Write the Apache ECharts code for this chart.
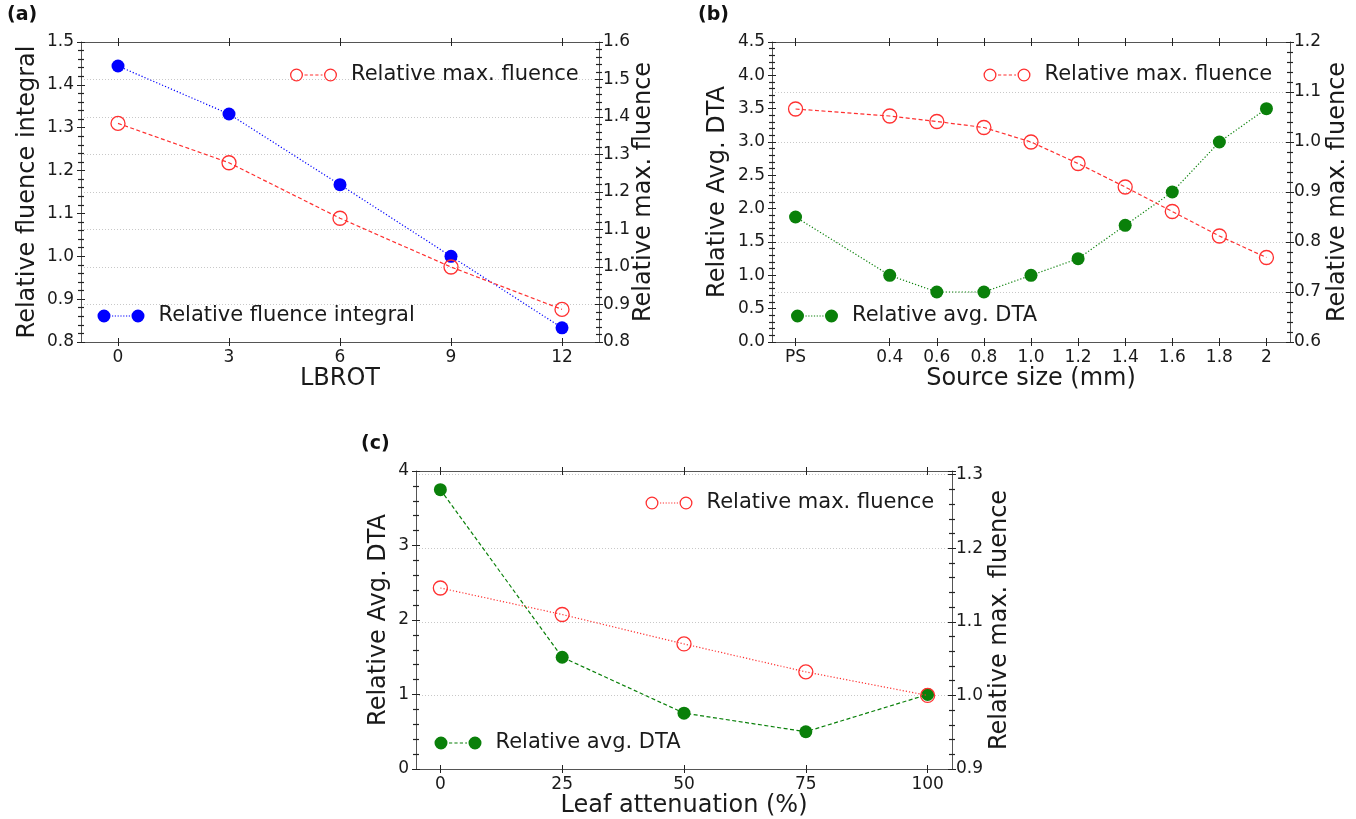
<!DOCTYPE html>
<html><head><meta charset="utf-8">
<script src="https://cdn.jsdelivr.net/npm/echarts@6/dist/echarts.min.js"></script>
<style>html,body{margin:0;padding:0;background:#fff}#c{width:1356px;height:819px}</style>
</head><body><div id="c"></div><script>
// ---------- data ----------
const lbrot = [0, 3, 6, 9, 12];
const lbrotTickLabels = ['0', '3', '6', '9', '12'];
const aFluenceIntegral = [1.444, 1.332, 1.167, 1.0, 0.833];
const aMaxFluence = [1.383, 1.278, 1.130, 1.0, 0.887];

const sourceSize = [0, 0.4, 0.6, 0.8, 1.0, 1.2, 1.4, 1.6, 1.8, 2.0];
const sourceSizeTickLabels = ['PS', '0.4', '0.6', '0.8', '1.0', '1.2', '1.4', '1.6', '1.8', '2'];
const bAvgDTA = [1.875, 1.0, 0.75, 0.75, 1.0, 1.25, 1.75, 2.25, 3.0, 3.5];
const bMaxFluence = [1.066, 1.052, 1.041, 1.029, 1.0, 0.957, 0.910, 0.861, 0.812, 0.769];

const leafAttenuation = [0, 25, 50, 75, 100];
const leafTickLabels = ['0', '25', '50', '75', '100'];
const cAvgDTA = [3.75, 1.5, 0.75, 0.5, 1.0];
const cMaxFluence = [1.146, 1.110, 1.070, 1.032, 1.0];

// ---------- styling ----------
const FONT = 'DejaVu Sans';
const RED = '#ff3030', BLUE = '#0000ff', GREEN = '#0a800a';
const AXC = '#555', TXT = '#1a1a1a';
const TICK_FS = 17, NAME_FS = 24, LEG_FS = 21;

const pairs = (xs, ys) => xs.map((x, i) => [x, ys[i]]);
const labelOf = (ticks, labels) => v => {
  let best = 0;
  ticks.forEach((t, i) => { if (Math.abs(t - v) < Math.abs(ticks[best] - v)) best = i; });
  return labels[best];
};

const grids = [
  {left: 81, top: 42, width: 518, height: 300},
  {left: 772, top: 42, width: 518, height: 300},
  {left: 416, top: 471, width: 536, height: 299}
];

function xAxesFor(g, min, max, ticks, labels, name, nameGap) {
  const base = {type: 'value', gridIndex: g, min, max, splitLine: {show: false},
    axisLine: {show: true, onZero: false, lineStyle: {color: AXC, width: 1}}};
  const hidden = {show: false, onZero: false};
  const tk = {lineStyle: {color: '#222', width: 1}, length: 4, customValues: ticks};
  return [
    Object.assign({}, base, {position: 'bottom', name, nameLocation: 'middle', nameGap, nameMoveOverlap: false,
      nameTextStyle: {fontFamily: FONT, fontSize: NAME_FS, color: TXT},
      axisTick: Object.assign({}, tk),
      axisLabel: {customValues: ticks, formatter: labelOf(ticks, labels), margin: 7,
        fontFamily: FONT, fontSize: TICK_FS, color: TXT}}),
    Object.assign({}, base, {position: 'bottom', axisLine: hidden,
      axisTick: Object.assign({}, tk, {inside: true}), axisLabel: {show: false}}),
    Object.assign({}, base, {position: 'top', axisTick: Object.assign({}, tk), axisLabel: {show: false}}),
    Object.assign({}, base, {position: 'top', axisLine: hidden,
      axisTick: Object.assign({}, tk, {inside: true}), axisLabel: {show: false}})
  ];
}

function yAxesFor(g, side, min, max, interval, fmt, name, nameGap, grid) {
  const base = {type: 'value', gridIndex: g, position: side, min, max, interval,
    axisLine: {show: true, onZero: false, lineStyle: {color: AXC, width: 1}}};
  const tk = {show: true, length: 4, lineStyle: {color: '#222', width: 1}};
  const mt = {show: true, splitNumber: 5, length: 3, lineStyle: {color: '#222', width: 1.2}};
  return [
    Object.assign({}, base, {name, nameLocation: 'middle', nameGap, nameMoveOverlap: false,
      nameTextStyle: {fontFamily: FONT, fontSize: NAME_FS, color: TXT},
      axisTick: tk, minorTick: mt,
      axisLabel: {formatter: fmt, margin: side === 'left' ? 7 : 4, showMaxLabel: !(side === 'right' && g === 2),
        fontFamily: FONT, fontSize: TICK_FS, color: TXT},
      splitLine: {show: grid, lineStyle: {type: [1, 2], color: '#c8c8c8', width: 1}}}),
    Object.assign({}, base, {axisLine: {show: false, onZero: false}, axisTick: Object.assign({}, tk, {inside: true}),
      minorTick: Object.assign({}, mt, {inside: true}), axisLabel: {show: false}, splitLine: {show: false}})
  ];
}

const f1 = v => v.toFixed(1);
const f0 = v => v.toFixed(0);

const xAxis = [].concat(
  xAxesFor(0, -1, 13, lbrot, lbrotTickLabels, 'LBROT', 25),
  xAxesFor(1, -0.1, 2.1, sourceSize, sourceSizeTickLabels, 'Source size (mm)', 25),
  xAxesFor(2, -5, 105, leafAttenuation, leafTickLabels, 'Leaf attenuation (%)', 25)
);
const yAxis = [].concat(
  yAxesFor(0, 'left', 0.8, 1.5, 0.1, f1, 'Relative fluence integral', 41, false),
  yAxesFor(0, 'right', 0.8, 1.6, 0.1, f1, 'Relative max. fluence', 33, true),
  yAxesFor(1, 'left', 0, 4.5, 0.5, f1, 'Relative Avg. DTA', 42, false),
  yAxesFor(1, 'right', 0.6, 1.2, 0.1, f1, 'Relative max. fluence', 36, true),
  yAxesFor(2, 'left', 0, 4, 1, f0, 'Relative Avg. DTA', 25, false),
  yAxesFor(2, 'right', 0.9, 1.305, 0.1, f1, 'Relative max. fluence', 36, true)
);

function filledSeries(name, g, right, xs, ys, color, dash) {
  return {type: 'line', name, xAxisIndex: g * 4, yAxisIndex: g * 4 + (right ? 2 : 0),
    data: pairs(xs, ys), symbol: 'circle', symbolSize: 13, z: 3,
    itemStyle: {color}, lineStyle: {color, width: 1.2, type: dash},
    emphasis: {disabled: true}};
}
function hollowSeries(name, g, right, xs, ys, dash) {
  return {type: 'line', name, xAxisIndex: g * 4, yAxisIndex: g * 4 + (right ? 2 : 0),
    data: pairs(xs, ys), symbol: 'circle', symbolSize: 14, z: 4,
    itemStyle: {color: 'rgba(255,255,255,0)', borderColor: RED, borderWidth: 1.3},
    lineStyle: {color: RED, width: 1.2, type: dash},
    emphasis: {disabled: true}};
}

const DASHED = [4, 2.5], DOTTED = [1.2, 2];

const series = [
  filledSeries('Relative fluence integral', 0, false, lbrot, aFluenceIntegral, BLUE, DOTTED),
  hollowSeries('Relative max. fluence', 0, true, lbrot, aMaxFluence, DASHED),
  filledSeries('Relative avg. DTA', 1, false, sourceSize, bAvgDTA, GREEN, DOTTED),
  hollowSeries('Relative max. fluence ', 1, true, sourceSize, bMaxFluence, DASHED),
  filledSeries('Relative avg. DTA  ', 2, false, leafAttenuation, cAvgDTA, GREEN, DASHED),
  hollowSeries('Relative max. fluence  ', 2, true, leafAttenuation, cMaxFluence, DOTTED)
];

// ---------- legend icons (two markers joined by a dashed / dotted line) ----------
const R1 = 6.5, R2 = 5.2, CY = 6.5, C1 = 6.5, C2 = 40.5;
function ring(cx) {
  return `M${cx - R1},${CY}A${R1},${R1} 0 1 1 ${cx + R1},${CY}A${R1},${R1} 0 1 1 ${cx - R1},${CY}Z` +
         `M${cx - R2},${CY}A${R2},${R2} 0 1 0 ${cx + R2},${CY}A${R2},${R2} 0 1 0 ${cx - R2},${CY}Z`;
}
function disc(cx) {
  return `M${cx - R1},${CY}A${R1},${R1} 0 1 1 ${cx + R1},${CY}A${R1},${R1} 0 1 1 ${cx - R1},${CY}Z`;
}
function segs(dash, gap) {
  let p = '', x = C1 + R1 + 1.5;
  const end = C2 - R1 - 1.5;
  while (x < end) {
    const w = Math.min(dash, end - x);
    p += `M${x},${CY - 0.6}h${w}v1.2h${-w}Z`;
    x += dash + gap;
  }
  return p;
}
const iconHollowDashed = 'path://' + ring(C1) + ring(C2) + segs(3.2, 2.2);
const iconHollowDotted = 'path://' + ring(C1) + ring(C2) + segs(1.2, 1.6);
const iconFilledDotted = 'path://' + disc(C1) + disc(C2) + segs(1.2, 1.6);
const iconFilledDashed = 'path://' + disc(C1) + disc(C2) + segs(3.2, 2.2);

function legend(name, icon, color, left, top) {
  return {left, top, padding: 0, selectedMode: false, itemWidth: 47, itemHeight: 13,
    data: [{name, icon, itemStyle: {color, borderWidth: 0, opacity: 1}}],
    textStyle: {fontFamily: FONT, fontSize: LEG_FS, color: TXT, padding: [0, 0, 0, 9]}};
}

const legends = [
  legend('Relative max. fluence', iconHollowDashed, RED, 290, 64.5),
  legend('Relative fluence integral', iconFilledDotted, BLUE, 97.5, 305.5),
  legend('Relative max. fluence ', iconHollowDashed, RED, 983.5, 64.5),
  legend('Relative avg. DTA', iconFilledDotted, GREEN, 791, 305.5),
  legend('Relative max. fluence  ', iconHollowDotted, RED, 645.5, 492.5),
  legend('Relative avg. DTA  ', iconFilledDashed, GREEN, 434.5, 732.5)
];

const titles = [
  {text: '(a)', left: 7, top: 6},
  {text: '(b)', left: 698, top: 6},
  {text: '(c)', left: 361, top: 435}
].map(t => Object.assign(t, {padding: 0, textStyle: {fontFamily: FONT, fontSize: 19, fontWeight: 'bold', color: '#111'}}));

const chart = echarts.init(document.getElementById('c'), null, {renderer: 'canvas'});
chart.setOption({
  animation: false,
  backgroundColor: '#fff',
  title: titles,
  grid: grids,
  xAxis, yAxis,
  legend: legends,
  series
});
</script></body></html>
